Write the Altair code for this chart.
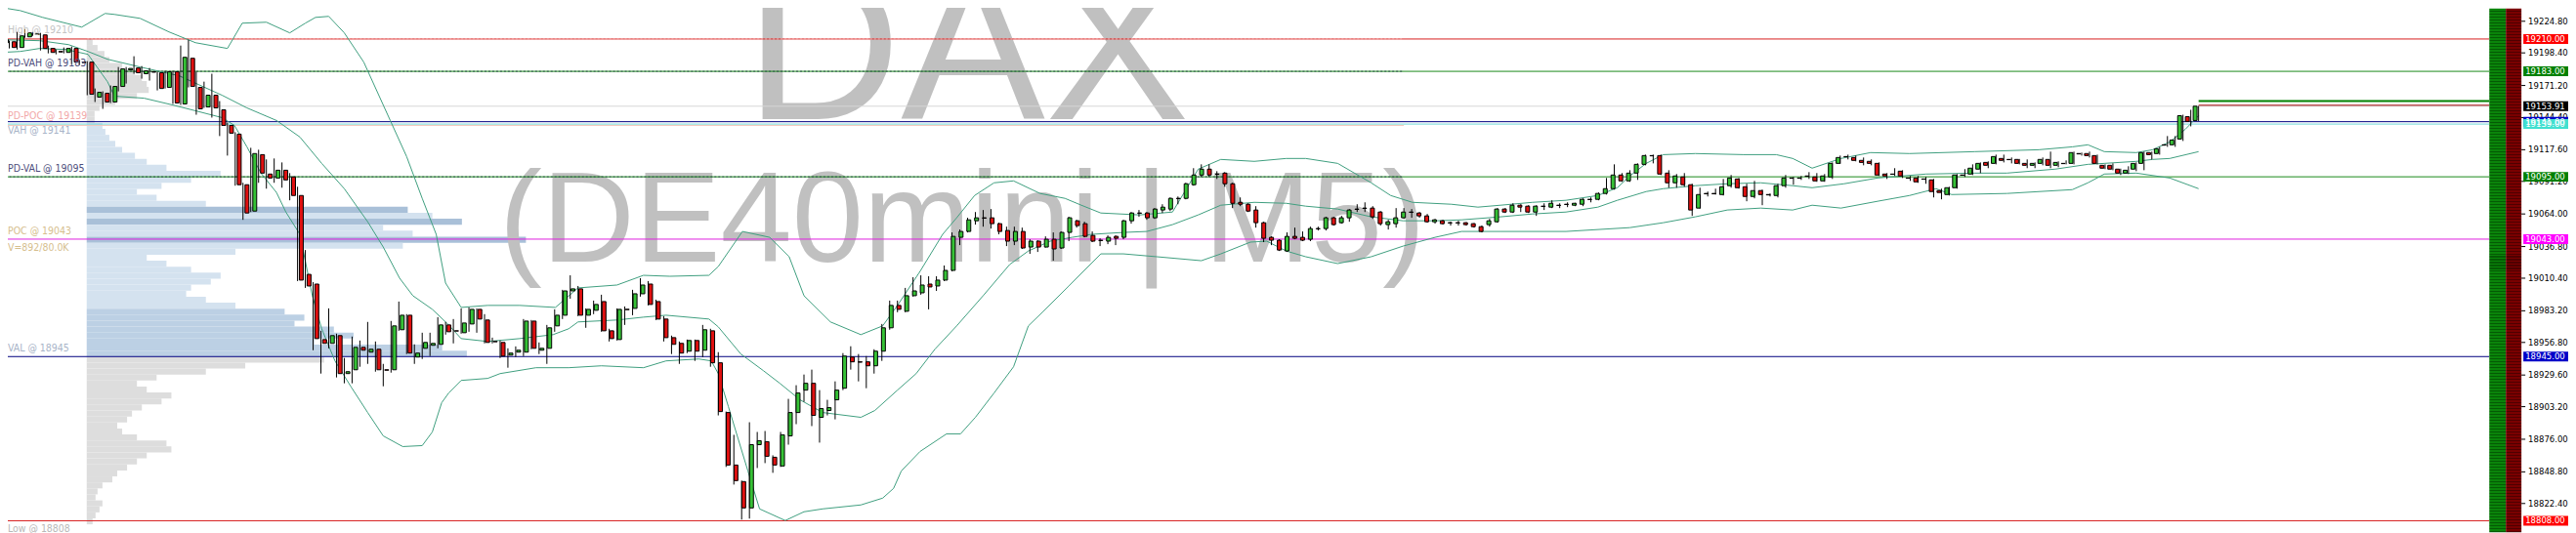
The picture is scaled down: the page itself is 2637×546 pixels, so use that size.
import altair as alt
import pandas as pd

# ---------------- candles (DE40mini, M5), oldest first ----------------
opens = [19206.9,19207.7,19202.9,19211.8,19213.8,19213.4,19202.1,19199.6,19198.8,19202.1,
19190.7,19190.7,19161.5,19164.7,19157.4,19170.4,19184.2,19185.8,19181.0,19182.6,
19181.8,19169.6,19182.6,19155.8,19193.9,19169.6,19153.3,19163.1,19150.9,19137.9,
19130.6,19088.4,19066.4,19113.5,19097.3,19094.0,19100.5,19094.9,19079.4,19013.6,
19005.5,18959.2,18956.0,18962.5,18930.8,18934.0,18952.7,18948.7,18951.1,18934.0,
18934.0,18967.4,18979.5,18944.6,18951.9,18954.4,18955.2,18971.4,18966.5,18964.9,
18972.2,18984.4,18975.5,18957.6,18956.8,18946.2,18948.7,18948.7,18974.6,18950.3,
18951.9,18970.6,18979.5,18999.8,19001.5,18979.5,18983.6,18990.9,18966.5,18959.2,
18984.4,18985.2,18997.4,19005.5,18990.9,18976.3,18960.8,18956.0,18949.5,18958.4,
18950.3,18966.5,18939.8,18898.3,18854.5,18840.7,18818.7,18871.5,18874.0,18861.0,
18853.7,18878.8,18898.3,18917.0,18922.7,18894.3,18900.0,18908.9,18918.6,18944.6,
18940.6,18940.6,18937.3,18949.5,18969.0,18987.7,18982.8,18995.8,18998.2,19005.5,
19003.9,19008.8,19016.9,19044.5,19049.4,19058.3,19060.8,19060.8,19055.9,19050.2,
19041.3,19049.4,19036.4,19041.3,19036.4,19042.9,19035.6,19048.6,19058.3,19055.9,
19046.1,19042.1,19041.3,19045.3,19044.5,19058.3,19064.8,19064.8,19060.8,19067.3,
19068.1,19077.0,19077.0,19088.4,19096.5,19101.4,19097.3,19098.1,19089.2,19073.7,
19072.1,19067.3,19056.7,19044.5,19042.1,19033.1,19045.3,19044.5,19042.9,19051.8,
19051.8,19060.8,19056.7,19060.8,19068.1,19068.9,19068.9,19065.6,19055.1,19055.9,
19060.8,19065.6,19064.8,19062.4,19057.5,19058.3,19056.7,19056.7,19056.7,19055.9,
19053.4,19055.1,19057.5,19068.1,19065.6,19071.3,19070.5,19065.6,19070.5,19069.7,
19071.3,19072.1,19071.3,19072.1,19076.2,19076.2,19081.1,19085.1,19096.5,19091.6,
19098.1,19105.4,19112.7,19112.7,19098.1,19090.0,19094.9,19088.4,19068.9,19081.1,
19081.1,19080.2,19087.6,19093.2,19086.7,19078.6,19083.5,19080.2,19079.4,19087.6,
19094.0,19094.0,19095.7,19094.9,19091.6,19094.9,19106.2,19111.9,19111.1,19108.7,
19107.9,19106.2,19097.3,19097.3,19099.7,19094.0,19094.0,19093.2,19092.4,19083.5,
19080.2,19085.9,19096.5,19097.3,19101.4,19107.0,19106.2,19110.3,19109.5,19109.5,
19106.2,19104.6,19106.2,19109.5,19104.6,19106.2,19106.2,19114.4,19114.4,19112.7,
19104.6,19104.6,19101.4,19098.1,19101.4,19106.2,19115.2,19114.4,19121.7,19121.7,
19126.5,19145.2,19142.0]
highs = [19211.0,19208.6,19215.9,19218.3,19215.9,19215.1,19204.5,19201.2,19202.9,19203.7,
19192.3,19191.5,19168.7,19166.3,19171.2,19186.6,19186.6,19195.6,19187.4,19185.8,
19182.6,19183.4,19183.4,19204.5,19209.4,19182.6,19174.4,19181.0,19158.2,19140.3,
19132.2,19090.0,19119.2,19117.6,19109.5,19110.3,19107.0,19098.1,19086.7,19033.9,
19007.1,18966.5,18985.2,18964.1,18943.8,18961.7,18958.4,18973.9,18957.6,18938.9,
18974.7,18990.9,18980.4,18955.2,18964.9,18964.9,18977.9,18973.9,18976.3,18985.2,
18986.0,18985.2,18980.4,18960.8,18958.4,18951.9,18953.5,18976.3,18975.5,18956.8,
18971.4,18984.4,19000.7,19012.8,19003.9,18985.2,18991.7,18996.6,18968.2,18985.2,
18986.8,19000.7,19010.4,19008.0,18992.5,18978.7,18962.5,18957.6,18959.2,18959.2,
18971.4,18968.2,18948.7,18899.1,18879.7,18841.5,18890.2,18882.1,18882.9,18862.6,
18882.1,18909.7,18921.1,18930.0,18934.1,18917.0,18908.9,18924.3,18947.9,18953.6,
18947.1,18945.4,18951.1,18972.2,18991.7,18991.7,19002.3,19011.2,19012.8,19012.0,
19012.0,19021.0,19048.6,19051.0,19060.8,19065.6,19067.3,19068.1,19056.7,19053.4,
19053.4,19052.6,19042.9,19042.1,19045.3,19048.6,19049.4,19061.6,19059.1,19057.5,
19049.4,19043.7,19046.1,19046.1,19059.1,19065.6,19067.3,19065.6,19068.9,19072.1,
19077.8,19078.6,19090.0,19102.2,19105.4,19105.4,19099.7,19098.9,19090.0,19077.8,
19072.9,19070.5,19057.5,19045.3,19042.9,19048.6,19052.6,19049.4,19053.4,19053.4,
19061.6,19061.6,19062.4,19068.1,19072.1,19073.7,19070.5,19066.4,19059.1,19068.9,
19068.9,19068.1,19065.6,19064.0,19059.9,19059.1,19057.5,19058.3,19057.1,19056.3,
19054.3,19059.9,19068.9,19068.9,19072.9,19072.1,19071.3,19071.3,19072.9,19075.4,
19072.9,19073.7,19073.3,19077.0,19077.8,19081.9,19094.0,19105.4,19098.1,19100.5,
19106.2,19113.5,19113.5,19113.5,19100.5,19097.3,19098.1,19089.2,19085.9,19082.7,
19085.1,19093.2,19096.5,19094.0,19089.2,19091.6,19084.3,19081.1,19089.2,19096.5,
19094.9,19095.7,19098.9,19098.1,19097.3,19107.0,19112.7,19113.5,19112.7,19111.1,
19109.5,19107.0,19098.1,19102.2,19100.5,19095.7,19095.7,19094.9,19093.2,19085.1,
19086.7,19097.3,19101.4,19105.4,19107.0,19107.9,19113.5,19113.5,19111.1,19109.9,
19109.5,19107.0,19111.1,19116.0,19107.9,19108.7,19116.0,19115.2,19116.0,19113.5,
19105.4,19106.2,19101.8,19103.8,19107.0,19116.0,19116.0,19120.0,19129.0,19129.0,
19146.8,19150.9,19154.1]
lows = [19206.1,19202.1,19201.2,19211.0,19212.6,19200.4,19198.0,19197.2,19198.0,19189.1,
19188.3,19163.1,19157.4,19151.7,19156.6,19166.3,19172.8,19181.0,19176.9,19175.3,
19167.1,19168.7,19155.8,19155.0,19169.6,19146.8,19152.5,19144.4,19129.0,19112.7,
19087.6,19059.1,19065.6,19090.0,19085.1,19090.0,19085.9,19075.4,19008.0,19002.3,
18950.3,18930.8,18951.9,18927.6,18922.7,18922.7,18936.5,18938.9,18932.4,18920.2,
18931.6,18966.5,18947.1,18938.9,18943.0,18945.4,18951.9,18963.3,18956.0,18964.1,
18965.7,18964.9,18956.0,18956.0,18943.8,18935.7,18944.6,18945.4,18951.1,18947.1,
18938.9,18965.7,18976.3,18993.3,18978.7,18969.0,18980.4,18965.7,18957.6,18958.4,
18971.4,18979.5,18995.0,18987.7,18975.5,18957.6,18947.1,18938.9,18947.9,18941.4,
18944.6,18936.5,18895.9,18852.9,18838.2,18809.0,18809.8,18852.0,18856.1,18848.0,
18852.9,18871.5,18888.6,18907.3,18887.0,18873.2,18895.9,18892.6,18917.0,18934.1,
18924.3,18918.6,18930.8,18941.4,18967.4,18982.0,18982.0,18995.0,18996.6,18984.4,
18999.8,19008.0,19016.1,19038.0,19048.6,19055.1,19053.4,19051.8,19047.0,19037.2,
19038.0,19034.8,19030.7,19032.3,19036.0,19025.0,19034.8,19041.3,19052.6,19044.5,
19040.5,19037.2,19038.8,19038.0,19042.9,19055.9,19061.6,19059.1,19059.9,19064.8,
19066.4,19072.1,19076.2,19087.6,19094.9,19094.9,19093.2,19086.7,19068.9,19070.5,
19065.6,19052.6,19040.5,19038.0,19033.1,19032.3,19042.9,19041.3,19041.3,19050.2,
19050.2,19054.3,19055.9,19057.5,19065.6,19065.6,19059.9,19054.3,19051.0,19052.6,
19059.9,19060.8,19060.8,19056.7,19055.9,19055.1,19054.3,19054.3,19054.3,19052.6,
19048.6,19053.4,19056.7,19064.8,19064.8,19065.6,19064.8,19062.4,19067.3,19068.9,
19068.9,19069.7,19070.5,19070.5,19073.7,19075.4,19080.2,19084.3,19090.8,19090.8,
19092.4,19104.6,19106.2,19096.5,19085.9,19085.9,19086.7,19062.4,19068.5,19078.6,
19080.2,19079.4,19085.9,19085.1,19074.6,19077.0,19071.3,19078.6,19077.8,19085.9,
19088.4,19092.4,19093.2,19090.8,19090.8,19093.2,19105.8,19109.5,19107.9,19104.6,
19104.6,19095.7,19093.2,19095.7,19094.0,19091.6,19090.0,19089.2,19077.8,19076.2,
19079.4,19085.1,19094.9,19096.5,19098.1,19102.2,19105.4,19107.0,19106.2,19105.4,
19102.2,19102.2,19104.6,19102.2,19103.0,19105.4,19105.4,19112.7,19111.1,19105.4,
19101.4,19100.5,19096.5,19097.3,19099.7,19100.5,19109.5,19113.5,19120.0,19120.0,
19124.9,19137.1,19141.5]
closes = [19209.4,19202.9,19212.6,19215.1,19214.2,19202.1,19198.8,19199.2,19202.1,19190.7,
19190.3,19163.9,19165.5,19157.4,19170.4,19185.0,19185.4,19181.8,19183.4,19182.3,
19168.7,19182.6,19156.6,19194.7,19170.4,19151.7,19163.1,19152.5,19137.9,19131.4,
19088.4,19064.8,19114.4,19098.1,19094.0,19100.5,19092.4,19079.4,19008.8,19003.9,
18960.0,18956.0,18962.5,18930.8,18932.4,18952.7,18950.3,18951.1,18934.0,18933.6,
18970.6,18979.5,18947.9,18947.9,18956.8,18956.0,18971.4,18965.7,18966.3,18973.0,
18984.4,18976.3,18956.8,18957.4,18945.4,18947.9,18950.3,18974.6,18951.9,18951.9,
18969.0,18979.5,18999.8,19001.5,18979.5,18984.4,18988.5,18966.5,18960.0,18984.4,
18984.2,18997.4,19004.7,18988.5,18976.3,18960.8,18955.2,18947.9,18958.4,18949.5,
18967.4,18939.8,18899.1,18854.5,18841.5,18818.7,18871.5,18874.8,18861.8,18854.5,
18879.7,18898.3,18914.6,18922.7,18895.9,18901.6,18902.4,18917.0,18945.4,18940.6,
18940.3,18937.3,18949.5,18969.0,18987.7,18984.4,18995.8,18999.8,19004.7,19003.1,
19008.8,19016.9,19045.3,19049.4,19059.1,19060.8,19060.5,19055.9,19049.4,19041.3,
19049.4,19035.6,19041.3,19036.4,19042.9,19034.8,19048.6,19060.8,19054.3,19045.3,
19041.3,19041.8,19044.5,19043.7,19058.3,19064.8,19064.6,19060.8,19068.1,19069.7,
19077.0,19076.8,19089.2,19096.5,19101.4,19096.5,19097.1,19089.2,19072.9,19072.1,
19066.4,19056.7,19043.7,19042.1,19033.9,19045.3,19043.7,19042.1,19051.8,19051.6,
19060.8,19055.1,19060.8,19067.3,19067.8,19068.6,19061.6,19055.9,19057.5,19060.8,
19065.6,19065.4,19062.4,19057.5,19059.1,19055.9,19056.5,19056.5,19055.1,19053.4,
19049.4,19058.3,19068.1,19065.6,19071.3,19069.7,19065.6,19070.5,19070.3,19072.9,
19071.1,19071.9,19072.9,19076.2,19076.0,19081.1,19085.1,19096.5,19091.6,19098.1,
19105.4,19112.7,19112.5,19097.3,19090.0,19095.7,19088.4,19067.3,19080.2,19080.8,
19080.8,19086.7,19094.0,19085.9,19078.6,19083.5,19080.2,19079.9,19087.6,19094.0,
19093.8,19093.8,19095.4,19091.6,19095.7,19106.2,19111.1,19111.7,19108.7,19107.0,
19106.2,19096.5,19095.7,19097.1,19095.7,19093.8,19090.8,19093.0,19082.7,19081.9,
19085.9,19096.5,19096.3,19102.2,19106.2,19104.6,19111.9,19108.7,19109.3,19106.2,
19104.6,19106.2,19109.5,19104.6,19107.0,19106.0,19115.2,19114.1,19112.7,19106.2,
19102.2,19101.4,19098.1,19100.5,19106.2,19115.2,19113.5,19118.4,19121.4,19125.7,
19146.0,19141.2,19153.91]

# ---------------- Bollinger bands (bar slot, price) ----------------
upper_i = [0,2.4,5.3,10.3,13.3,14.5,17.8,21.5,24.9,29.0,30.9,34.0,37.0,39.0,40.3,42.0,44.0,46.5,49.9,52.0,
54.0,55.8,57.0,59.0,62.4,66.5,71.1,74.0,79.0,82.4,85.8,90.8,92.0,95.1,98.6,101.1,103.0,106.4,110.3,113.1,
115.0,117.9,120.8,122.6,124.9,127.4,129.9,133.3,136.5,138.6,141.1,146.1,150.3,153.6,156.5,160.8,164.9,167.4,171.5,175.8,
178.3,181.1,186.1,189.5,192.4,196.5,200.8,204.9,207.4,209.0,211.1,213.3,217.4,223.6,227.8,229.9,232.4,236.1,239.9,244.9,
253.3,261.5,265.8,267.8,269.9,274.0,276.1,278.3,280.3,282.0]
upper_p = [19236.2,19233.7,19228.0,19219.9,19231.3,19230.5,19227.2,19215.9,19206.9,19202.1,19223.2,19224.0,19215.1,19223.2,19228.0,19228.9,19215.1,19190.7,19142.0,19111.9,
19077.0,19047.0,19006.3,18986.0,18987.7,18987.7,18986.0,19002.3,19004.7,19012.8,19012.0,19012.8,19020.1,19049.4,19044.5,19028.3,18995.8,18973.9,18963.3,18970.6,
18987.7,19016.1,19047.0,19060.8,19079.4,19090.0,19091.6,19081.1,19077.0,19071.3,19064.8,19063.2,19065.6,19101.4,19109.5,19107.9,19110.3,19110.3,19106.2,19090.0,
19079.4,19073.7,19072.1,19069.7,19071.3,19073.7,19075.4,19079.4,19085.9,19095.7,19106.2,19113.5,19114.4,19113.5,19113.5,19110.3,19102.2,19110.3,19115.2,19114.4,
19116.0,19117.6,19120.0,19121.7,19116.0,19115.2,19117.6,19124.1,19134.7,19146.0]
mid_i = [0,4.9,8.6,11.1,13.6,17.8,22.8,28.3,31.5,35.3,38.3,41.1,44.0,47.0,49.0,51.1,52.8,55.3,57.4,59.0,
62.4,66.5,70.8,72.8,74.0,79.0,82.4,85.3,90.8,92.0,94.9,97.8,99.9,102.5,105.4,110.3,112.1,115.0,117.4,119.8,
122.6,126.0,129.4,131.8,134.6,137.4,139.9,144.0,147.0,150.3,153.6,156.5,160.8,164.9,167.4,171.5,175.8,179.9,184.0,187.4,
192.4,196.5,200.8,204.9,207.4,211.1,213.3,217.4,221.5,225.8,229.9,232.4,236.5,240.8,247.0,253.3,257.4,263.6,267.8,269.9,
274.0,276.1,278.3,282.0]
mid_p = [19209.4,19208.6,19205.3,19199.6,19193.1,19186.6,19179.3,19163.1,19152.5,19142.0,19128.2,19106.2,19085.1,19057.5,19036.4,19010.4,18995.8,18984.4,18971.4,18960.0,
18957.6,18960.0,18963.3,18968.2,18973.9,18975.5,18977.9,18979.5,18976.3,18969.8,18947.1,18933.2,18922.7,18908.9,18898.3,18894.3,18900.0,18917.0,18930.8,18951.1,
18970.6,18995.8,19021.8,19033.1,19041.3,19044.5,19047.0,19048.6,19049.4,19055.1,19063.2,19071.3,19073.7,19072.9,19070.5,19068.1,19061.6,19058.3,19058.3,19059.1,
19061.6,19064.0,19065.6,19069.7,19075.4,19082.7,19085.1,19087.6,19089.2,19090.0,19087.6,19085.9,19089.2,19094.0,19097.3,19098.1,19098.1,19101.4,19105.4,19106.2,
19107.9,19109.5,19110.3,19116.0]
low_i = [0,2.4,4.9,8.3,11.1,13.6,14.5,18.3,22.0,24.9,28.3,29.9,31.5,33.3,35.3,36.5,38.3,39.9,41.1,42.8,
44.9,47.0,49.0,51.5,54.0,55.3,56.5,57.4,59.0,62.4,64.0,68.6,72.8,77.0,82.4,85.3,89.5,91.1,92.0,93.3,
95.8,97.3,100.6,103.0,105.4,110.3,113.1,114.5,115.5,117.9,121.3,123.1,125.0,127.4,129.9,131.8,133.6,137.0,141.1,144.0,
148.3,154.0,156.5,160.3,162.4,164.9,167.4,171.5,175.8,179.9,184.0,187.4,192.4,200.8,209.0,213.3,217.4,221.5,225.8,229.9,
232.4,236.1,240.8,244.9,248.3,250.3,257.4,265.8,267.8,269.9,274.0,278.3,282.0]
low_p = [19198.8,19199.6,19202.1,19201.2,19197.2,19174.4,19162.3,19160.6,19154.9,19150.1,19144.4,19137.9,19120.0,19098.1,19081.9,19065.6,19047.0,18995.8,18968.2,18941.4,
18919.4,18898.3,18878.8,18869.9,18870.7,18882.1,18906.5,18914.6,18925.1,18926.8,18930.8,18935.7,18935.7,18937.3,18935.7,18941.4,18943.0,18941.4,18930.8,18903.2,
18849.6,18817.9,18808.2,18815.5,18817.9,18821.2,18826.9,18835.0,18849.6,18865.8,18880.5,18880.5,18894.3,18914.6,18936.5,18970.6,18982.0,19003.9,19030.7,19030.7,
19028.3,19025.0,19030.7,19040.5,19041.3,19033.1,19028.3,19022.6,19028.3,19037.2,19044.5,19049.4,19049.4,19049.4,19052.6,19056.7,19061.6,19067.3,19068.9,19067.3,
19071.3,19068.9,19074.6,19079.4,19085.1,19080.2,19081.1,19084.3,19090.0,19097.3,19098.1,19094.0,19085.1]

# ---------------- volume profile (5-point rows, top row first) ----------------
prof_top = [19210,19205,19200,19195,19190,19185,19180,19175,19170,19165,19160,19155,19150,19145,
19140,19135,19130,19125,19120,19115,19110,19105,19100,19095,19090,19085,19080,19075,19070,19065,
19060,19055,19050,19045,19040,19035,19030,19025,19020,19015,19010,19005,19000,18995,18990,18985,
18980,18975,18970,18965,18960,18955,18950,18945,18940,18935,18930,18925,18920,18915,18910,18905,
18900,18895,18890,18885,18880,18875,18870,18865,18860,18855,18850,18845,18840,18835,18830,18825,
18820,18815,18810]
prof_vol = [12,22,36,46,72,98,112,122,126,102,58,26,16,16,
32,38,46,58,72,98,122,162,272,212,152,102,142,242,652,702,762,602,662,892,642,302,122,162,212,272,
252,212,202,242,302,402,442,422,502,542,462,722,772,
482,322,242,142,102,122,172,152,112,92,82,62,72,102,162,172,122,102,82,62,52,32,22,18,32,26,18,12]
POC_VOL = 892
VAH, VAL = 19141, 18945
dark_rows = [19070, 19060, 19045]
mid_rows = [18985, 18980, 18975, 18970, 18965, 18960, 18955, 18950]

# ---------------- key levels ----------------
lvl_price = [19210, 19183, 19153.91, 19141, 19139, 19095, 19043, 18945, 18808]
lvl_color = ['#d81e1e', '#1a8a1a', '#d6d6d6', '#000080', '#70d8d8', '#1a8a1a', '#e020e0', '#000080', '#d81e1e']

lab_text = ['High @ 19210', 'PD-VAH @ 19183', 'PD-POC @ 19139', 'VAH @ 19141', 'PD-VAL @ 19095',
            'POC @ 19043', 'V=892/80.0K', 'VAL @ 18945', 'Low @ 18808']
lab_price = [19210, 19183, 19139, 19141, 19095, 19043, 19043, 18945, 18808]
lab_dy = [-9, -8.5, -8, 9, -8, -8, 9, -8.5, 9]
lab_color = ['#c4c4c4', '#4e4e7c', '#f2a8a8', '#a8b4c8', '#4e4e7c', '#d6be8e', '#d6be8e', '#a8b4c8', '#b8b8b8']

tick_vals = [19224.80, 19198.40, 19171.20, 19144.40, 19117.60, 19091.20, 19064.00, 19036.80,
             19010.40, 18983.20, 18956.80, 18929.60, 18903.20, 18876.00, 18848.80, 18822.40]
box_price = [19141, 19139, 19210, 19183, 19153.91, 19095, 19043, 18945, 18808]
box_text = ['19141.00', '19139.00', '19210.00', '19183.00', '19153.91', '19095.00', '19043.00', '18945.00', '18808.00']
box_color = ['#0000c8', '#40e0d0', '#ff0000', '#008000', '#000000', '#008000', '#ff00ff', '#0000c8', '#ff0000']

# ---------------- layout ----------------
W, H = 2629, 538
SLOT = 8.0
X_DOM = [0.8125, 0.8125 + W / SLOT]
Y_DOM = [18798.45, 19235.35]
PXPT = H / (Y_DOM[1] - Y_DOM[0])
xs = alt.Scale(domain=X_DOM, nice=False, zero=False)
ys = alt.Scale(domain=Y_DOM, nice=False, zero=False)
LINE_END = 319.3
IND_END = 180
PROF_X = 81
prof_scale = alt.Scale(domain=[-PROF_X * POC_VOL / 451.0, (W - PROF_X) * POC_VOL / 451.0], nice=False, zero=False)

n = len(opens)
cd = pd.DataFrame({'i': list(range(n)), 'o': opens, 'h': highs, 'l': lows, 'c': closes})
cd['dir'] = ['up' if c > o else 'down' for o, c in zip(opens, closes)]

def prof_cat(top):
    mid = top - 2.5
    if mid > VAH or mid < VAL:
        return '#dddddd'
    if top in dark_rows:
        return '#a9c0d8'
    if top in mid_rows:
        return '#bcd0e4'
    return '#d4e2ef'

pdf = pd.DataFrame({'top': prof_top, 'bot': [t - 5 for t in prof_top], 'v': prof_vol})
pdf['v0'] = 0
pdf['col'] = [prof_cat(t) for t in prof_top]

profile = alt.Chart(pdf).mark_rect().encode(
    x=alt.X('v0:Q', scale=prof_scale, axis=None), x2='v:Q',
    y=alt.Y('bot:Q', scale=ys, axis=None), y2='top:Q',
    color=alt.Color('col:N', scale=None))

wm1 = alt.Chart(pd.DataFrame({'t': ['DAX']})).mark_text(
    font='Liberation Sans', fontSize=222, color='#c0c0c0', align='center', baseline='alphabetic'
).encode(text='t:N', x=alt.value(985), y=alt.value(114))
wm2 = alt.Chart(pd.DataFrame({'t': ['(DE40mini | M5)']})).mark_text(
    font='Liberation Sans', fontSize=132, color='#c0c0c0', align='center', baseline='alphabetic'
).encode(text='t:N', x=alt.value(980), y=alt.value(260))

lv = pd.DataFrame({'p': lvl_price, 'col': lvl_color})
lv['x0'] = -1
lv['x1'] = LINE_END
levels = alt.Chart(lv).mark_rule(strokeWidth=1).encode(
    x=alt.X('x0:Q', scale=xs, axis=None), x2='x1:Q',
    y=alt.Y('p:Q', scale=ys, axis=None), color=alt.Color('col:N', scale=None))

dot = pd.DataFrame({'p': [19183, 19095], 'x0': [-1, -1], 'x1': [IND_END, IND_END]})
dotted = alt.Chart(dot).mark_rule(strokeWidth=1, strokeDash=[2, 2], color='#2f4f4f').encode(
    x=alt.X('x0:Q', scale=xs, axis=None), x2='x1:Q', y=alt.Y('p:Q', scale=ys, axis=None))
hi_dot = alt.Chart(pd.DataFrame({'p': [19210], 'x0': [11], 'x1': [IND_END]})).mark_rule(
    strokeWidth=1, strokeDash=[2, 2], color='#f7b8b8').encode(
    x=alt.X('x0:Q', scale=xs, axis=None), x2='x1:Q', y=alt.Y('p:Q', scale=ys, axis=None))
pdpoc = alt.Chart(pd.DataFrame({'p': [19137.9], 'x0': [-1], 'x1': [IND_END]})).mark_rule(
    strokeWidth=1, color='#f4c8bc').encode(
    x=alt.X('x0:Q', scale=xs, axis=None), x2='x1:Q', y=alt.Y('p:Q', scale=ys, axis=None))

last_i = n - 1
tail = pd.DataFrame({'p': [19158.3, 19154.7], 'x0': [last_i, last_i], 'x1': [LINE_END, LINE_END],
                     'col': ['#008000', '#a00000'], 'w': [2, 1]})
tails = alt.Chart(tail).mark_rule().encode(
    x=alt.X('x0:Q', scale=xs, axis=None), x2='x1:Q', y=alt.Y('p:Q', scale=ys, axis=None),
    color=alt.Color('col:N', scale=None), strokeWidth=alt.StrokeWidth('w:Q', scale=None))

bands = []
for bi, bp in [(upper_i, upper_p), (mid_i, mid_p), (low_i, low_p)]:
    bdf = pd.DataFrame({'i': bi, 'p': bp})
    bands.append(alt.Chart(bdf).mark_line(color='#3f9f7f', strokeWidth=1).encode(
        x=alt.X('i:Q', scale=xs, axis=None), y=alt.Y('p:Q', scale=ys, axis=None), order='i:Q'))

wicks = alt.Chart(cd).mark_rule(color='black', strokeWidth=1).encode(
    x=alt.X('i:Q', scale=xs, axis=None), y=alt.Y('l:Q', scale=ys, axis=None), y2='h:Q')
bodies = alt.Chart(cd).mark_bar(width=4, stroke='black', strokeWidth=1).encode(
    x=alt.X('i:Q', scale=xs, axis=None), y=alt.Y('o:Q', scale=ys, axis=None), y2='c:Q',
    color=alt.Color('dir:N', scale=alt.Scale(domain=['up', 'down'], range=['#36c236', '#e01010']), legend=None))

labels = []
for t, p, dy, col in zip(lab_text, lab_price, lab_dy, lab_color):
    labels.append(alt.Chart(pd.DataFrame({'p': [p], 't': [t]})).mark_text(
        align='left', baseline='middle', dy=dy, fontSize=10.5, color=col,
        font='DejaVu Sans Condensed').encode(
        x=alt.value(0), y=alt.Y('p:Q', scale=ys, axis=None), text='t:N'))

def stripes(c1, c2, k=179):
    stops = []
    for j in range(k):
        a, b, e = j / k, (j + 0.66) / k, (j + 1) / k
        stops += [alt.GradientStop(offset=a, color=c1), alt.GradientStop(offset=b, color=c1),
                  alt.GradientStop(offset=b, color=c2), alt.GradientStop(offset=e, color=c2)]
    return alt.Gradient(gradient='linear', stops=stops, x1=0, x2=0, y1=0, y2=1)

one = pd.DataFrame({'a': [0]})
col_g = alt.Chart(one).mark_rect(color=stripes('#0a840a', '#045a04')).encode(
    x=alt.value(2548), x2=alt.value(2565), y=alt.value(0), y2=alt.value(H))
col_r = alt.Chart(one).mark_rect(color=stripes('#7a0000', '#4e0000')).encode(
    x=alt.value(2565), x2=alt.value(2581), y=alt.value(0), y2=alt.value(H))

tdf = pd.DataFrame({'v': tick_vals, 't': [f'{v:.2f}' for v in tick_vals]})
tick_marks = alt.Chart(tdf).mark_rule(color='black', strokeWidth=1).encode(
    x=alt.value(2581), x2=alt.value(2585), y=alt.Y('v:Q', scale=ys, axis=None))
tick_text = alt.Chart(tdf).mark_text(align='left', baseline='middle', fontSize=9.5,
                                     font='DejaVu Sans Condensed', color='black').encode(
    x=alt.value(2588), y=alt.Y('v:Q', scale=ys, axis=None), text='t:N')

half = 5.0 / PXPT
bdf = pd.DataFrame({'p': box_price, 't': box_text, 'col': box_color})
bdf['lo'] = bdf['p'] - half
bdf['hi'] = bdf['p'] + half
bdf['k'] = range(len(bdf))
boxes = alt.Chart(bdf).mark_rect().encode(
    x=alt.value(2583), x2=alt.value(W), y=alt.Y('lo:Q', scale=ys, axis=None), y2='hi:Q',
    color=alt.Color('col:N', scale=None), order='k:Q')
box_txt = alt.Chart(bdf).mark_text(align='left', baseline='middle', fontSize=9.5,
                                   font='DejaVu Sans Condensed', color='white').encode(
    x=alt.value(2585), y=alt.Y('p:Q', scale=ys, axis=None), text='t:N')

chart = alt.layer(
    profile, wm1, wm2, levels, dotted, hi_dot, pdpoc, tails, *bands, wicks, bodies, *labels,
    col_g, col_r, tick_marks, tick_text, boxes, box_txt
).resolve_scale(x='independent').properties(
    width=W, height=H, padding=0, autosize='none', background='white'
).configure_view(stroke=None)

chart.save("out.html", embed_options={"renderer": "svg", "actions": False})
